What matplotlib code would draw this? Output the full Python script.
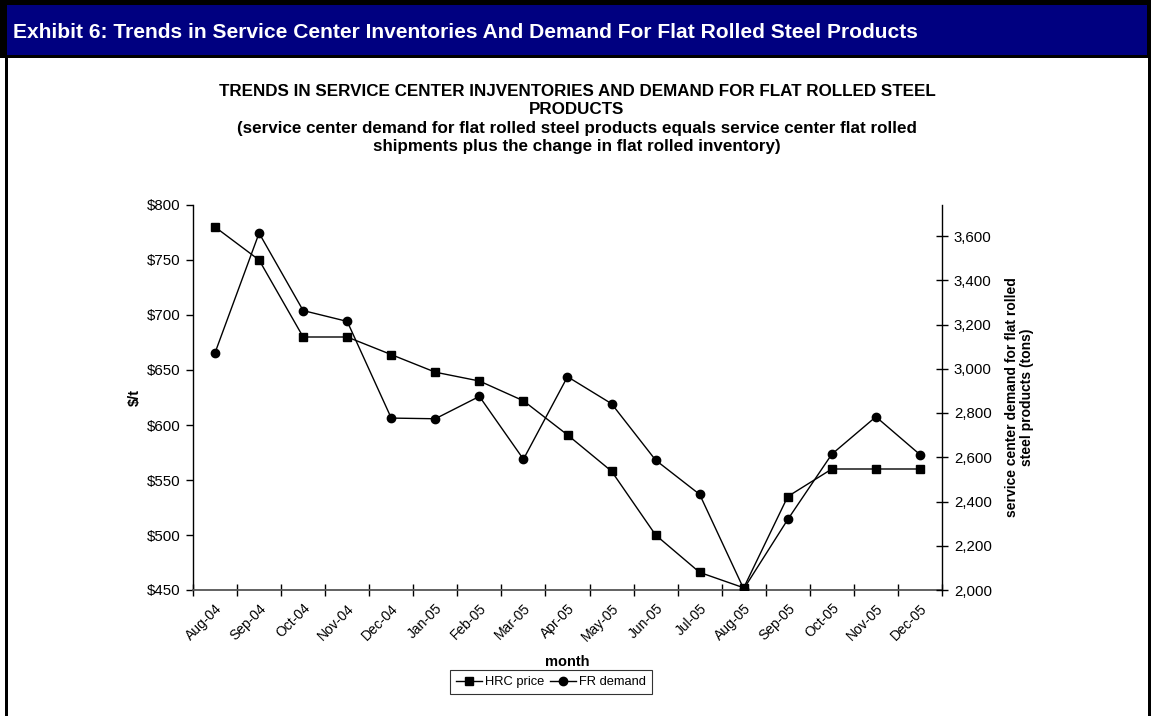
import matplotlib
matplotlib.use("Agg")
import matplotlib.pyplot as plt
from matplotlib.lines import Line2D
from matplotlib.patches import Rectangle
from matplotlib.ticker import FuncFormatter, FixedLocator
import matplotlib.font_manager as fm

months = ["Aug-04", "Sep-04", "Oct-04", "Nov-04", "Dec-04", "Jan-05", "Feb-05",
          "Mar-05", "Apr-05", "May-05", "Jun-05", "Jul-05", "Aug-05", "Sep-05",
          "Oct-05", "Nov-05", "Dec-05"]
hrc_price = [780, 750, 680, 680, 664, 648, 640, 622, 591, 558, 500, 466, 452,
             535, 560, 560, 560]
fr_demand = [3072, 3613, 3263, 3214, 2777, 2774, 2875, 2591, 2964, 2842, 2587,
             2432, 2005, 2319, 2614, 2783, 2612]

left_ticks = [450, 500, 550, 600, 650, 700, 750, 800]
right_ticks = [2000, 2200, 2400, 2600, 2800, 3000, 3200, 3400, 3600]

names = {f.name for f in fm.fontManager.ttflist}
base = "Liberation Sans" if "Liberation Sans" in names else "DejaVu Sans"
narrow = "Liberation Sans Narrow" if "Liberation Sans Narrow" in names else base
plt.rcParams["font.family"] = [base, "DejaVu Sans"]

W, H = 1151, 716
fig = plt.figure(figsize=(W / 100, H / 100), dpi=100)
renderer = fig.canvas.get_renderer()


def fit_width(t, target_px):
    bb = t.get_window_extent(renderer=renderer)
    t.set_fontsize(t.get_fontsize() * target_px / bb.width)


# banner and frame
fig.patches.append(Rectangle((0, 1 - 58 / H), 1, 58 / H, transform=fig.transFigure,
                             facecolor="black", edgecolor="none", zorder=0))
fig.patches.append(Rectangle((7 / W, 1 - 55 / H), 1140 / W, 50 / H, transform=fig.transFigure,
                             facecolor="#000080", edgecolor="none", zorder=1))
fig.patches.append(Rectangle((5 / W, 0), 3 / W, 1 - 58 / H, transform=fig.transFigure,
                             facecolor="black", edgecolor="none", zorder=1))
fig.patches.append(Rectangle((1148 / W, 0), 3 / W, 1 - 58 / H, transform=fig.transFigure,
                             facecolor="black", edgecolor="none", zorder=1))
banner = fig.text(13 / W, 1 - 32 / H,
                  "Exhibit 6: Trends in Service Center Inventories And Demand For Flat Rolled Steel Products",
                  color="white", fontsize=17, fontweight="bold", family=[narrow, "DejaVu Sans"],
                  fontstretch="condensed", ha="left", va="center")
fit_width(banner, 908)

# chart title
tfs = 12
t1 = fig.text(577 / W, 1 - 91 / H, "TRENDS IN SERVICE CENTER INJVENTORIES AND DEMAND FOR FLAT ROLLED STEEL",
              fontsize=tfs, fontweight="bold", ha="center", va="center")
fit_width(t1, 714)
tfs = t1.get_fontsize()
fig.text(577 / W, 1 - 109 / H, "PRODUCTS", fontsize=tfs, fontweight="bold", ha="center", va="center")
fig.text(577 / W, 1 - 128 / H, "(service center demand for flat rolled steel products equals service center flat rolled",
         fontsize=tfs, fontweight="bold", ha="center", va="center")
fig.text(577 / W, 1 - 146 / H, "shipments plus the change in flat rolled inventory)",
         fontsize=tfs, fontweight="bold", ha="center", va="center")

ax = fig.add_axes([193 / W, 1 - 590 / H, (942 - 193) / W, (590 - 205) / H])
ax2 = ax.twinx()

x = list(range(len(months)))
ax.plot(x, hrc_price, color="black", lw=1.0, marker="s", ms=6, mfc="black", mec="black",
        label="HRC price", zorder=3)
ax2.plot(x, fr_demand, color="black", lw=1.0, marker="o", ms=6, mfc="black", mec="black",
         label="FR demand", zorder=3)

ax.set_xlim(-0.5, len(months) - 0.5)
ax.set_ylim(450, 800)
ax2.set_ylim(2000, 2000 + 385 / 354 * 1600)

for a in (ax, ax2):
    for s in a.spines.values():
        s.set_visible(False)
ax.spines["left"].set_visible(True)
ax.spines["bottom"].set_visible(True)
ax2.spines["right"].set_visible(True)
ax.spines["left"].set_linewidth(1.0)
ax.spines["bottom"].set_linewidth(1.3)
ax.spines["bottom"].set_color("#555555")
ax2.spines["right"].set_linewidth(1.0)

ax.set_yticks(left_ticks)
ax.yaxis.set_major_formatter(FuncFormatter(lambda v, p: f"${v:,.0f}"))
ax.tick_params(axis="y", direction="out", length=5, width=1, labelsize=10.8, pad=4)

ax2.set_yticks(right_ticks)
ax2.yaxis.set_major_formatter(FuncFormatter(lambda v, p: f"{v:,.0f}"))
ax2.tick_params(axis="y", direction="inout", length=9, width=1, labelsize=10.8, pad=4)

bounds = [i - 0.5 for i in range(len(months) + 1)]
ax.xaxis.set_major_locator(FixedLocator(bounds))
ax.xaxis.set_major_formatter(FuncFormatter(lambda v, p: ""))
ax.xaxis.set_minor_locator(FixedLocator(x))
ax.set_xticklabels(months, minor=True, rotation=45, ha="right", rotation_mode="anchor", fontsize=10)
ax.tick_params(axis="x", which="major", direction="inout", length=9, width=1)
ax.tick_params(axis="x", which="minor", length=0, pad=8)

ax.set_xlabel("month", fontsize=10.5, fontweight="bold")
ax.set_ylabel("$/t", fontsize=10.5, fontweight="bold")
ax2.set_ylabel("service center demand for flat rolled\nsteel products (tons)", fontsize=10,
               fontweight="bold", linespacing=1.1)
ax.xaxis.set_label_coords(0.5, (590 - 655) / 385)
ax.yaxis.set_label_coords((142 - 193) / 749, 0.5)
ax2.yaxis.set_label_coords((1005 - 193) / 749, 0.5)

handles = [Line2D([], [], color="black", lw=1.0, marker="s", ms=6),
           Line2D([], [], color="black", lw=1.0, marker="o", ms=6)]
leg = fig.legend(handles, ["HRC price", "FR demand"], loc="center", bbox_to_anchor=(551 / W, 1 - 682 / H),
                 ncol=2, frameon=True, fancybox=False, edgecolor="black", fontsize=9.3,
                 handlelength=2.0, handletextpad=0.2, columnspacing=0.5, borderpad=0.45,
                 borderaxespad=0)
leg.get_frame().set_linewidth(0.8)

fig.savefig("out.png", dpi=100)
